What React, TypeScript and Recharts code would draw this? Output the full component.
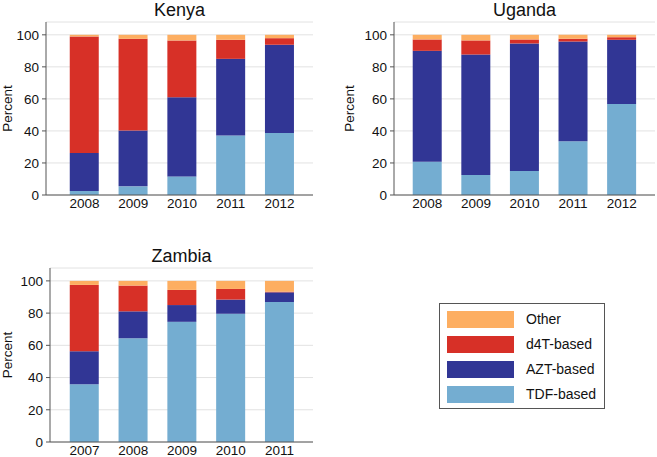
import { Bar, BarChart, CartesianGrid, XAxis, YAxis } from 'recharts';

const kenyaYears = ['2008', '2009', '2010', '2011', '2012'];
const kenyaTdf = [2.5, 5.4, 11.6, 37.2, 38.7];
const kenyaAzt = [23.7, 34.9, 49.5, 47.8, 55.1];
const kenyaD4t = [72.8, 57.2, 35.4, 11.9, 4.1];
const kenyaOther = [1.0, 2.5, 3.5, 3.1, 2.1];

const ugandaYears = ['2008', '2009', '2010', '2011', '2012'];
const ugandaTdf = [20.8, 12.5, 15.0, 33.5, 56.8];
const ugandaAzt = [69.2, 75.2, 79.6, 62.3, 40.1];
const ugandaD4t = [7.1, 8.8, 2.5, 1.7, 1.6];
const ugandaOther = [2.9, 3.5, 2.9, 2.5, 1.5];

const zambiaYears = ['2007', '2008', '2009', '2010', '2011'];
const zambiaTdf = [35.8, 64.4, 74.6, 79.6, 86.9];
const zambiaAzt = [20.5, 16.7, 10.4, 8.8, 6.0];
const zambiaD4t = [41.2, 16.0, 9.4, 6.6, 0.4];
const zambiaOther = [2.5, 2.9, 5.6, 5.0, 6.7];

const yTicks = [0, 20, 40, 60, 80, 100];

// drawn bottom to top
const series = [
  { key: 'tdf', name: 'TDF-based', color: '#74add1' },
  { key: 'azt', name: 'AZT-based', color: '#313695' },
  { key: 'd4t', name: 'd4T-based', color: '#d73027' },
  { key: 'other', name: 'Other', color: '#fdae61' },
];

const FONT = '"Liberation Sans", Arial, Helvetica, sans-serif';
const FRAME = '#555';

function buildRows(years: string[], tdf: number[], azt: number[], d4t: number[], other: number[]) {
  return years.map((year, i) => ({ year, tdf: tdf[i], azt: azt[i], d4t: d4t[i], other: other[i] }));
}

interface PanelProps {
  title: string;
  rows: any[];
  left: number;
  top: number;
  width: number;
  height: number;
  marginTop: number;
  marginRight: number;
  axisWidth: number;
  axisHeight: number;
  padLeft: number;
  padRight: number;
  labelOffset: number;
}

function Panel(p: PanelProps) {
  const plotLeft = p.axisWidth;
  const plotWidth = p.width - p.axisWidth - p.marginRight;
  return (
    <div style={{ position: 'absolute', left: p.left, top: p.top, width: p.width, height: p.height }}>
      <div
        style={{
          position: 'absolute',
          left: plotLeft,
          width: plotWidth,
          top: p.marginTop - 22,
          textAlign: 'center',
          fontSize: 18,
          color: '#111',
          lineHeight: '20px',
        }}
      >
        {p.title}
      </div>
      <BarChart
        width={p.width}
        height={p.height}
        data={p.rows}
        margin={{ top: p.marginTop, right: p.marginRight, bottom: 0, left: 0 }}
        barCategoryGap="20%"
      >
        <CartesianGrid vertical={false} stroke="#e2e2e2" />
        <XAxis
          dataKey="year"
          height={p.axisHeight}
          padding={{ left: p.padLeft, right: p.padRight }}
          tickLine={false}
          tickSize={0}
          tickMargin={3}
          axisLine={{ stroke: FRAME }}
          tick={{ fill: '#111', fontSize: 13.5, fontFamily: FONT }}
        />
        <XAxis
          xAxisId="top"
          dataKey="year"
          orientation="top"
          height={0}
          tick={false}
          tickLine={false}
          axisLine={{ stroke: FRAME }}
        />
        <YAxis
          width={p.axisWidth}
          domain={[0, 108]}
          ticks={yTicks}
          tickSize={4}
          tickMargin={3}
          tickLine={{ stroke: FRAME }}
          axisLine={{ stroke: FRAME }}
          tick={{ fill: '#111', fontSize: 13.5, fontFamily: FONT }}
          label={{
            value: 'Percent',
            angle: -90,
            position: 'insideLeft',
            offset: p.labelOffset,
            style: { textAnchor: 'middle', fill: '#111', fontSize: 13.5, fontFamily: FONT },
          }}
        />
        <YAxis
          yAxisId="r"
          orientation="right"
          width={0}
          domain={[0, 108]}
          tick={false}
          tickLine={false}
          axisLine={{ stroke: FRAME }}
        />
        {series.map((s) => (
          <Bar key={s.key} dataKey={s.key} name={s.name} stackId="a" fill={s.color} isAnimationActive={false} />
        ))}
      </BarChart>
    </div>
  );
}

export default function App() {
  const legendOrder = [...series].reverse();
  return (
    <div
      style={{
        position: 'absolute',
        left: 0,
        top: 0,
        width: 657,
        height: 457,
        background: '#fff',
        fontFamily: FONT,
        overflow: 'hidden',
      }}
    >
      <Panel
        title="Kenya"
        rows={buildRows(kenyaYears, kenyaTdf, kenyaAzt, kenyaD4t, kenyaOther)}
        left={0}
        top={0}
        width={330}
        height={220}
        marginTop={22}
        marginRight={17}
        axisWidth={46}
        axisHeight={25}
        padLeft={14}
        padRight={9}
        labelOffset={7}
      />
      <Panel
        title="Uganda"
        rows={buildRows(ugandaYears, ugandaTdf, ugandaAzt, ugandaD4t, ugandaOther)}
        left={327}
        top={0}
        width={330}
        height={220}
        marginTop={22}
        marginRight={2}
        axisWidth={67}
        axisHeight={25}
        padLeft={9}
        padRight={9}
        labelOffset={22}
      />
      <Panel
        title="Zambia"
        rows={buildRows(zambiaYears, zambiaTdf, zambiaAzt, zambiaD4t, zambiaOther)}
        left={0}
        top={220}
        width={330}
        height={237}
        marginTop={48}
        marginRight={17}
        axisWidth={50}
        axisHeight={15}
        padLeft={10}
        padRight={9}
        labelOffset={7}
      />
      <div
        style={{
          position: 'absolute',
          left: 439,
          top: 303,
          width: 166,
          height: 106,
          border: `1px solid ${FRAME}`,
          boxSizing: 'border-box',
        }}
      >
        {legendOrder.map((s, i) => (
          <div
            key={s.key}
            style={{ position: 'absolute', left: 7, top: 6 + i * 25, height: 18, display: 'flex', alignItems: 'center' }}
          >
            <div style={{ width: 67, height: 17, background: s.color }} />
            <span style={{ marginLeft: 12, fontSize: 14, color: '#111' }}>{s.name}</span>
          </div>
        ))}
      </div>
    </div>
  );
}
